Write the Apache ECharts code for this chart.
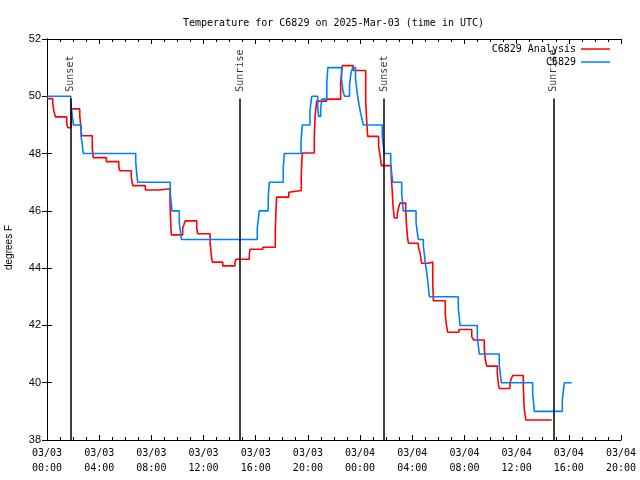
<!DOCTYPE html>
<html><head><meta charset="utf-8">
<script src="https://cdn.jsdelivr.net/npm/echarts@6/dist/echarts.min.js"></script>
<style>html,body{margin:0;padding:0;background:#fff}#c{width:640px;height:480px}</style>
</head><body><div id="c"></div>
<script>
const titleText = 'Temperature for C6829 on 2025-Mar-03 (time in UTC)';
const seriesNames = ['C6829 Analysis', 'C6829'];
const yAxisName = 'degrees F';
const xTickLabels = ['03/03\n00:00','03/03\n04:00','03/03\n08:00','03/03\n12:00','03/03\n16:00','03/03\n20:00',
                     '03/04\n00:00','03/04\n04:00','03/04\n08:00','03/04\n12:00','03/04\n16:00','03/04\n20:00'];
// hours since 03/03 00:00 UTC
const analysisHours = [0,0.44,0.52,0.64,1.51,1.61,1.85,2.51,2.60,2.66,3.47,3.55,4.55,5.50,5.58,6.46,6.52,6.58,7.54,8.53,
  9.43,9.48,9.53,10.40,10.50,10.60,11.48,11.55,12.50,12.56,12.62,12.68,13.47,14.41,14.47,15.51,15.57,16.54,17.50,17.55,
  17.60,18.53,18.58,19.49,19.53,19.57,20.49,20.55,20.67,21.44,22.51,22.64,23.48,24.43,24.50,24.58,25.42,25.52,25.64,26.39,
  26.45,26.52,26.62,26.85,26.95,27.06,27.50,27.56,27.63,27.70,28.46,28.60,28.72,29.23,29.57,29.62,30.53,30.62,30.72,31.58,
  32.56,32.71,33.52,33.60,33.71,34.52,34.60,34.67,35.49,35.60,35.70,36.51,36.58,36.70,38.69];
const analysisTemps = [49.92,49.75,49.5,49.28,49.03,48.9,49.56,49.33,48.9,48.62,48.2,47.86,47.72,47.55,47.4,47.2,47.0,46.88,46.73,46.77,
  46.3,45.6,45.16,45.4,45.52,45.65,45.4,45.2,44.9,44.6,44.35,44.21,44.08,44.2,44.31,44.5,44.66,44.73,45.3,46.0,
  46.48,46.65,46.71,47.2,47.7,48.02,48.6,49.3,49.83,49.9,50.5,51.07,50.9,49.8,49.2,48.6,48.25,47.96,47.58,47.2,
  46.8,46.21,45.75,45.9,46.1,46.27,46.0,45.5,45.1,44.87,44.76,44.52,44.17,44.21,43.5,42.86,42.4,42.0,41.76,41.86,
  41.6,41.49,41.2,40.8,40.58,40.3,39.95,39.8,40.0,40.15,40.25,39.9,39.1,38.7,38.7];
const obsHours = [0,1.82,1.92,2.02,2.61,2.71,2.78,6.80,6.88,6.95,9.45,9.52,9.58,10.14,10.22,10.30,16.12,16.20,16.27,16.96,
  17.04,18.11,18.19,19.47,19.57,20.16,20.29,20.75,20.82,20.98,21.08,21.45,21.53,22.58,22.68,22.80,23.19,23.30,23.42,23.65,
  23.78,23.92,24.05,24.15,24.25,25.70,25.78,25.86,26.35,26.42,26.50,27.19,27.25,27.31,28.29,28.37,28.46,28.85,28.93,29.00,
  29.10,29.20,29.31,31.53,31.60,31.66,32.99,33.06,33.14,34.67,34.75,34.83,37.23,37.30,37.36,39.50,39.58,39.66,40.22];
const obsTemps = [50.0,49.75,49.4,49.0,48.6,48.3,48.0,47.7,47.3,47.0,46.6,46.3,46.0,45.6,45.3,45.0,45.4,45.7,46.0,46.5,
  47.0,47.5,48.0,48.4,49.0,49.5,50.0,49.6,49.3,49.6,49.9,50.5,51.0,50.6,50.2,50.0,50.4,50.8,51.0,50.6,
  50.1,49.7,49.4,49.2,49.0,48.6,48.3,48.0,47.6,47.3,47.0,46.6,46.3,46.0,45.6,45.3,45.0,44.76,44.47,44.17,
  43.88,43.5,43.0,42.6,42.3,42.0,41.6,41.3,41.0,40.6,40.3,40.0,39.6,39.3,39.0,39.4,39.7,40.0,40.0];
const sunHours = [1.79, 14.81, 25.85, 38.83];
const sunLabels = ['Sunset', 'Sunrise', 'Sunset', 'Sunrise'];
const sunLineTop = 49.92;
const sunLabelBase = 50.16;

const MONO = '"DejaVu Sans Mono", "Liberation Mono", monospace';
const SANS = '"Liberation Sans", Arial, sans-serif';
const zip = (a, b) => a.map((x, i) => [x, b[i]]);

const chart = echarts.init(document.getElementById('c'), null, {renderer: 'canvas'});
const xCommon = {
  type: 'value', min: 0, max: 44, interval: 4,
  axisLine: {show: true, lineStyle: {color: '#000', width: 1}},
  axisTick: {show: true, inside: true, length: 5, lineStyle: {color: '#000'}},
  minorTick: {show: true, splitNumber: 4, length: 3, lineStyle: {color: '#000'}},
  splitLine: {show: false}
};
const yCommon = {
  type: 'value', min: 38, max: 52, interval: 2,
  axisLine: {show: true, lineStyle: {color: '#000', width: 1}},
  axisTick: {show: true, inside: true, length: 5, lineStyle: {color: '#000'}},
  splitLine: {show: false}
};
chart.setOption({
  animation: false,
  backgroundColor: '#fff',
  title: {text: titleText, left: 178, top: 13,
    textStyle: {fontFamily: MONO, fontSize: 10, fontWeight: 'normal', color: '#000'}},
  grid: {left: 47, right: 19, top: 39, bottom: 40, containLabel: false, outerBoundsMode: 'none'},
  legend: [
    {data: [seriesNames[0]], right: 25, top: 39, orient: 'vertical', align: 'right', icon: 'rect',
     itemWidth: 29, itemHeight: 1.5, textStyle: {fontFamily: MONO, fontSize: 10, color: '#000'}, selectedMode: false},
    {data: [seriesNames[1]], right: 25, top: 52, orient: 'vertical', align: 'right', icon: 'rect',
     itemWidth: 29, itemHeight: 1.5, textStyle: {fontFamily: MONO, fontSize: 10, color: '#000'}, selectedMode: false}
  ],
  xAxis: [
    Object.assign({}, xCommon, {position: 'bottom',
      axisLabel: {show: true, margin: 6, fontFamily: MONO, fontSize: 10, color: '#000', lineHeight: 15,
        formatter: v => xTickLabels[Math.round(v / 4)]}}),
    Object.assign({}, xCommon, {position: 'top', axisLabel: {show: false}})
  ],
  yAxis: [
    Object.assign({}, yCommon, {position: 'left',
      name: yAxisName, nameLocation: 'middle', nameGap: 33, nameRotate: 90,
      nameTextStyle: {fontFamily: SANS, fontSize: 10, color: '#000', padding: [0, 16, 0, 0]},
      axisLabel: {show: true, margin: 6, fontFamily: SANS, fontSize: 11, color: '#000'}}),
    Object.assign({}, yCommon, {position: 'right', axisLabel: {show: false}})
  ],
  series: [
    {name: seriesNames[0], type: 'line', step: 'end', data: zip(analysisHours, analysisTemps),
     showSymbol: false, symbol: 'none', color: '#ff0000', lineStyle: {color: '#ff0000', width: 1.6}, z: 3,
     markLine: {silent: true, symbol: 'none', label: {show: false},
       lineStyle: {color: '#000', width: 1.5, type: 'solid'},
       data: sunHours.map(h => [{coord: [h, 38]}, {coord: [h, sunLineTop]}])}},
    {name: seriesNames[1], type: 'line', step: 'end', data: zip(obsHours, obsTemps),
     showSymbol: false, symbol: 'none', color: '#0080ff', lineStyle: {color: '#0080ff', width: 1.6}, z: 4},
    {name: 'sun', type: 'scatter', silent: true, symbolSize: 0, z: 5,
     data: sunHours.map((h, i) => ({value: [h, sunLabelBase], name: sunLabels[i]})),
     label: {show: true, formatter: '{b}', position: 'inside', rotate: 90, align: 'left', verticalAlign: 'middle',
       offset: [0, 0], fontFamily: MONO, fontSize: 10, color: '#000'}}
  ]
});
</script></body></html>
